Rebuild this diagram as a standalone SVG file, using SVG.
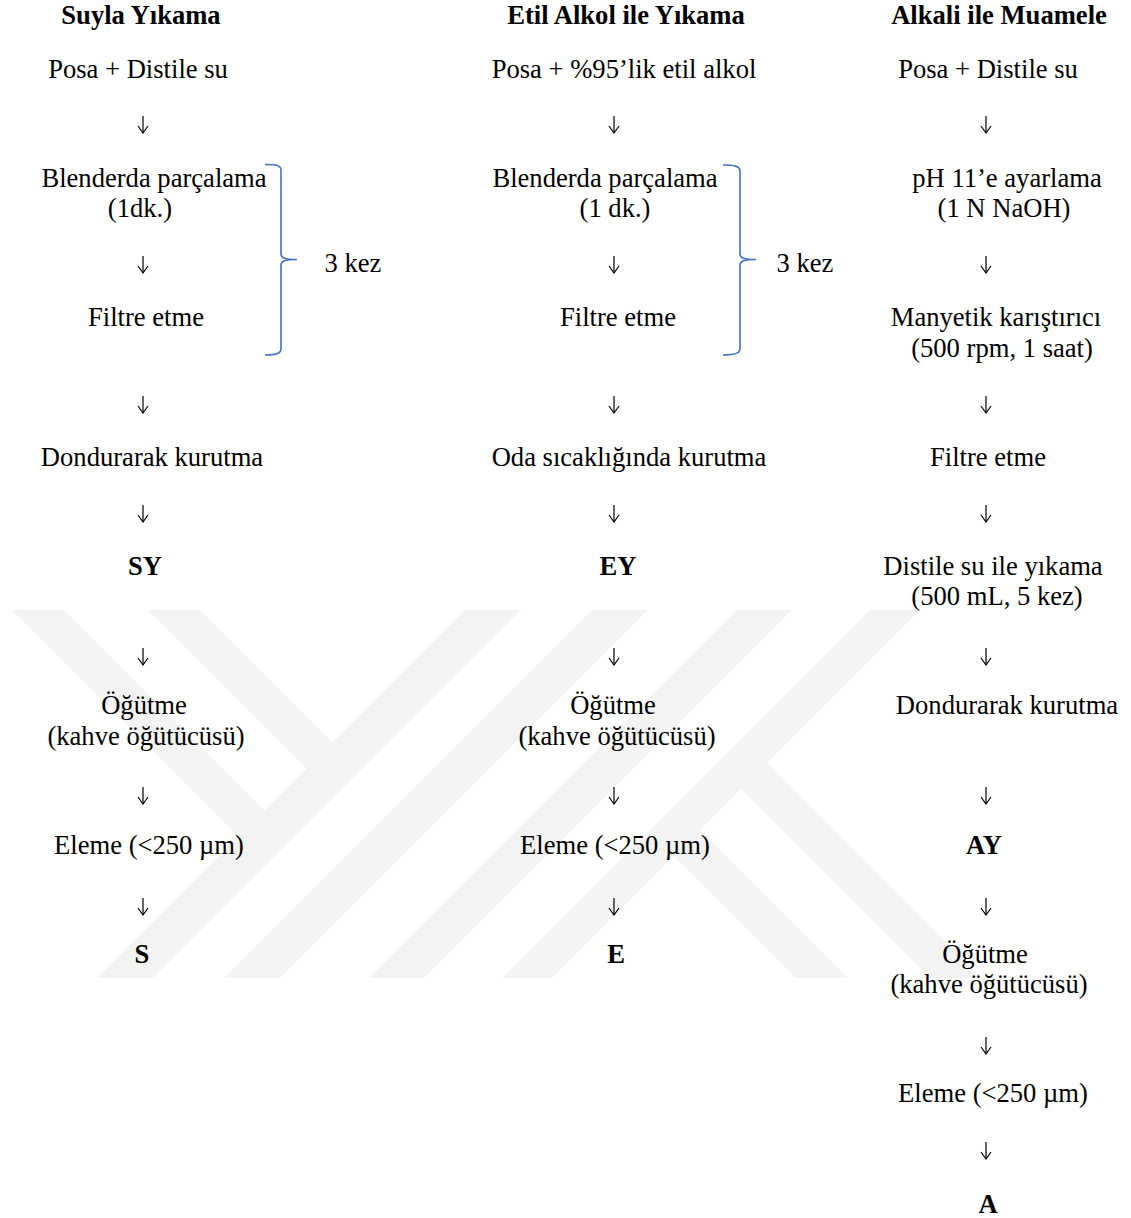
<svg xmlns="http://www.w3.org/2000/svg" width="1131" height="1218" viewBox="0 0 1131 1218">
<style>
text{font-family:"Liberation Serif","Times New Roman",serif;font-size:26.6px;fill:#000;text-anchor:middle}
.b{font-weight:bold}
.wm{fill:#f3f3f3;stroke:none}
.brace{fill:none;stroke:#4472c4;stroke-width:1.6}
.arr{fill:none;stroke:#000;stroke-width:1.2;marker-end:url(#head)}
</style>
<defs>
<marker id="head" markerUnits="userSpaceOnUse" markerWidth="12" markerHeight="14" viewBox="-8 -7 10 14" refX="0" refY="0" orient="auto" overflow="visible">
<path d="M-7,-5 L0,0 L-7,5" fill="none" stroke="#000" stroke-width="1.2"/>
</marker>
</defs>
<rect width="1131" height="1218" fill="#fff"/>
<g id="watermark">
<polygon class="wm" points="465,610 521,610 153,978 97,978"/>
<polygon class="wm" points="12,610 64,610 264.5,810.5 238.5,836.5"/>
<polygon class="wm" points="148,610 200,610 332.5,742.5 306.5,768.5"/>
<polygon class="wm" points="592,610 648,610 280,978 224,978"/>
<polygon class="wm" points="737,610 792,610 424,978 369,978"/>
<polygon class="wm" points="870,610 920,610 552,978 502,978"/>
<polygon class="wm" points="767,763 982,978 930,978 741,789"/>
<polygon class="wm" points="700,830 848,978 796,978 674,856"/>
</g>
<g id="connectors">
<g id="arrows-col1">
<path class="arr" d="M143,116 V133"/><path class="arr" d="M143,256 V273"/><path class="arr" d="M143,396 V413"/><path class="arr" d="M143,505 V522"/><path class="arr" d="M143,648 V665"/><path class="arr" d="M143,787 V804"/><path class="arr" d="M143,898 V915"/>
</g>
<g id="arrows-col2">
<path class="arr" d="M614,116 V133"/><path class="arr" d="M614,256 V273"/><path class="arr" d="M614,396 V413"/><path class="arr" d="M614,505 V522"/><path class="arr" d="M614,648 V665"/><path class="arr" d="M614,787 V804"/><path class="arr" d="M614,898 V915"/>
</g>
<g id="arrows-col3">
<path class="arr" d="M986,116 V133"/><path class="arr" d="M986,256 V273"/><path class="arr" d="M986,396 V413"/><path class="arr" d="M986,505 V522"/><path class="arr" d="M986,648 V665"/><path class="arr" d="M986,787 V804"/><path class="arr" d="M986,898 V915"/><path class="arr" d="M986,1037 V1054"/><path class="arr" d="M986,1142 V1159"/>
</g>
<path id="brace1" class="brace" d="M265,164.5 C276,164.5 281,165.5 281,170 V254 C281,258 285,259.5 297,259.5 C285,259.5 281,261 281,265 V349 C281,353.5 276,355 265,355"/>
<path id="brace2" class="brace" d="M723,165 C734,165 740,166 740,171 V254 C740,258 744,259.5 756,259.5 C744,259.5 740,261 740,265 V349 C740,353.5 734,355 723,355"/>
</g>
<g id="col1">
<g id="n1-title"><text class="b" x="141" y="24">Suyla Yıkama</text></g>
<g id="n1-1"><text x="138" y="78">Posa + Distile su</text></g>
<g id="n1-2"><text x="154" y="187">Blenderda parçalama</text><text x="140" y="217">(1dk.)</text></g>
<g id="n1-3"><text x="146" y="326">Filtre etme</text></g>
<g id="n1-rep"><text x="353" y="272">3 kez</text></g>
<g id="n1-4"><text x="152" y="466">Dondurarak kurutma</text></g>
<g id="n1-5"><text class="b" x="145" y="575">SY</text></g>
<g id="n1-6"><text x="144" y="714">Öğütme</text><text x="146" y="745">(kahve öğütücüsü)</text></g>
<g id="n1-7"><text x="149" y="854">Eleme (&lt;250 µm)</text></g>
<g id="n1-8"><text class="b" x="142" y="963">S</text></g>
</g>
<g id="col2">
<g id="n2-title"><text class="b" x="626" y="24">Etil Alkol ile Yıkama</text></g>
<g id="n2-1"><text x="624" y="78">Posa + %95’lik etil alkol</text></g>
<g id="n2-2"><text x="605" y="187">Blenderda parçalama</text><text x="615" y="217">(1 dk.)</text></g>
<g id="n2-3"><text x="618" y="326">Filtre etme</text></g>
<g id="n2-rep"><text x="805" y="272">3 kez</text></g>
<g id="n2-4"><text x="629" y="466">Oda sıcaklığında kurutma</text></g>
<g id="n2-5"><text class="b" x="618" y="575">EY</text></g>
<g id="n2-6"><text x="613" y="714">Öğütme</text><text x="617" y="745">(kahve öğütücüsü)</text></g>
<g id="n2-7"><text x="615" y="854">Eleme (&lt;250 µm)</text></g>
<g id="n2-8"><text class="b" x="616" y="963">E</text></g>
</g>
<g id="col3">
<g id="n3-title"><text class="b" x="999" y="24">Alkali ile Muamele</text></g>
<g id="n3-1"><text x="988" y="78">Posa + Distile su</text></g>
<g id="n3-2"><text x="1007" y="187">pH 11’e ayarlama</text><text x="1004" y="217">(1 N NaOH)</text></g>
<g id="n3-3"><text x="996" y="326">Manyetik karıştırıcı</text><text x="1002" y="357">(500 rpm, 1 saat)</text></g>
<g id="n3-4"><text x="988" y="466">Filtre etme</text></g>
<g id="n3-5"><text x="993" y="575">Distile su ile yıkama</text><text x="997" y="605">(500 mL, 5 kez)</text></g>
<g id="n3-6"><text x="1007" y="714">Dondurarak kurutma</text></g>
<g id="n3-7"><text class="b" x="984" y="854">AY</text></g>
<g id="n3-8"><text x="985" y="963">Öğütme</text><text x="989" y="993">(kahve öğütücüsü)</text></g>
<g id="n3-9"><text x="993" y="1102">Eleme (&lt;250 µm)</text></g>
<g id="n3-10"><text class="b" x="988" y="1213">A</text></g>
</g>
</svg>
